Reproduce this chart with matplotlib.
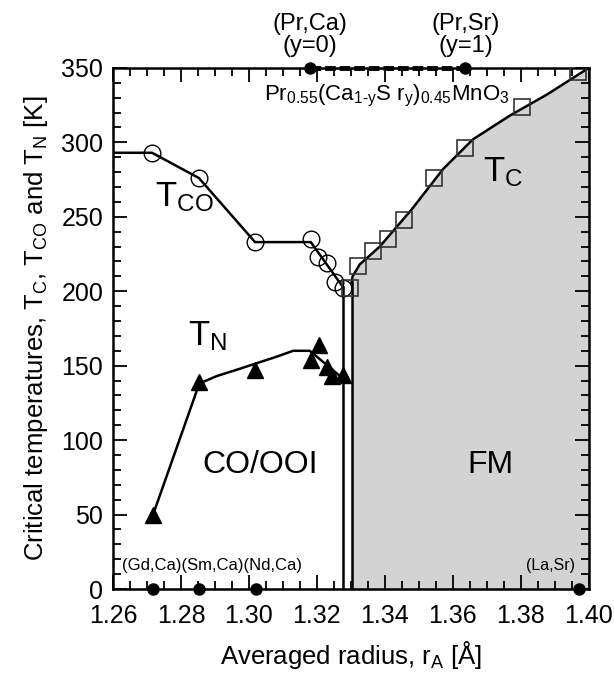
import matplotlib
matplotlib.use('Agg')
import matplotlib.pyplot as plt
from matplotlib.ticker import MultipleLocator

plt.rcParams['font.family'] = ['Liberation Sans', 'DejaVu Sans']
plt.rcParams['mathtext.fontset'] = 'custom'
plt.rcParams['mathtext.rm'] = 'Liberation Sans'
plt.rcParams['mathtext.it'] = 'Liberation Sans:italic'

# T_CO (open circles)
tco_x = [1.2715, 1.2853, 1.3018, 1.3182, 1.3203, 1.3229, 1.3253, 1.3276]
tco_y = [293, 276, 233, 235, 223, 219, 206, 202]
# T_CO guide line
tco_line_x = [1.26, 1.2715, 1.2853, 1.3018, 1.3182, 1.3276]
tco_line_y = [293, 293, 276, 233, 233, 203]

# T_N (filled triangles)
tn_x = [1.2718, 1.2853, 1.3018, 1.3182, 1.3206, 1.3229, 1.3244, 1.3276]
tn_y = [50, 139, 147, 154, 164, 149, 143, 144]
tn_line_x = [1.2718, 1.2854, 1.2905, 1.2974, 1.3081, 1.3130, 1.3179, 1.3268]
tn_line_y = [50, 138, 143, 148, 156, 160, 160, 143]

# T_C (open squares)
tc_x = [1.3297, 1.3321, 1.3364, 1.3410, 1.3456, 1.3545, 1.3635, 1.3802, 1.3969]
tc_y = [202, 217, 227, 235, 248, 276, 296, 324, 347]
tc_line_x = [1.3302, 1.3305, 1.3326, 1.3385, 1.3479, 1.3571, 1.3659, 1.3768, 1.3876, 1.40]
tc_line_y = [206, 210, 218, 230, 255, 282, 302, 318, 332, 350]

# phase boundaries
left_bound_x = 1.3276
right_bound_x = 1.3302

# compounds marked on axes
bottom_dots = [1.2719, 1.2854, 1.3020, 1.3970]
top_dots = [1.3180, 1.3637]

fig = plt.figure(figsize=(6.14, 6.79), dpi=100)
ax = fig.add_axes([0.184, 0.1325, 0.775, 0.7675])

# FM region shading
ax.fill_between(tc_line_x, tc_line_y, 0, color='#d3d3d3', lw=0, zorder=0)
ax.fill_between([right_bound_x, tc_line_x[0]], [0, 0], [206, 206], color='#d3d3d3', lw=0, zorder=0)

ax.plot(tco_line_x, tco_line_y, color='black', lw=1.8, zorder=2)
ax.plot([left_bound_x, left_bound_x], [0, 203], color='black', lw=1.8, zorder=2)
ax.plot([right_bound_x, right_bound_x], [0, 206], color='black', lw=1.8, zorder=2)
ax.plot(tc_line_x, tc_line_y, color='black', lw=1.8, zorder=2)
ax.plot(tn_line_x, tn_line_y, color='black', lw=1.8, zorder=2)

ax.plot(tco_x, tco_y, 'o', ms=12, mfc='none', mec='black', mew=1.0, zorder=3)
ax.plot(tc_x, tc_y, 's', ms=12, mfc='none', mec='#333333', mew=1.2, zorder=3)
ax.plot(tn_x, tn_y, '^', ms=12, color='black', zorder=3)

# top dashed line between (Pr,Ca) and (Pr,Sr)
ax.plot(top_dots, [350, 350], color='black', lw=3.5, ls=(0, (2.2, 0.8)), clip_on=False, zorder=4)
ax.plot(top_dots, [350, 350], 'o', color='black', ms=8, clip_on=False, zorder=5)
ax.plot(bottom_dots, [0] * len(bottom_dots), 'o', color='black', ms=8, clip_on=False, zorder=5)

ax.text(top_dots[0], 357, '(Pr,Ca)\n(y=0)', ha='center', va='bottom', fontsize=17, linespacing=1.0)
ax.text(top_dots[1], 357, '(Pr,Sr)\n(y=1)', ha='center', va='bottom', fontsize=17, linespacing=1.0)
ax.text(1.3045, 331, r'Pr$\mathregular{_{0.55}}$(Ca$\mathregular{_{1\text{-}y}}$S r$\mathregular{_{y}}$)$\mathregular{_{0.45}}$MnO$\mathregular{_3}$',
        ha='left', va='center', fontsize=16)

ax.text(1.2724, 263, r'T$\mathregular{_{CO}}$', ha='left', va='center', fontsize=25)
ax.text(1.2820, 170, r'T$\mathregular{_{N}}$', ha='left', va='center', fontsize=25)
ax.text(1.3688, 280, r'T$\mathregular{_{C}}$', ha='left', va='center', fontsize=25)
ax.text(1.3032, 83, 'CO/OOI', ha='center', va='center', fontsize=23)
ax.text(1.3710, 83, 'FM', ha='center', va='center', fontsize=23)
ax.text(1.2628, 16, '(Gd,Ca)(Sm,Ca)(Nd,Ca)', ha='left', va='center', fontsize=12)
ax.text(1.3960, 16, '(La,Sr)', ha='right', va='center', fontsize=11.5)

ax.set_xlim(1.26, 1.40)
ax.set_ylim(0, 350)
ax.xaxis.set_major_locator(MultipleLocator(0.02))
ax.xaxis.set_minor_locator(MultipleLocator(0.005))
ax.yaxis.set_major_locator(MultipleLocator(50))
ax.yaxis.set_minor_locator(MultipleLocator(10))
ax.xaxis.set_major_formatter(matplotlib.ticker.FormatStrFormatter('%.2f'))
ax.tick_params(which='both', direction='in', top=True, right=True, labelsize=18, width=1.3)
ax.tick_params(which='major', length=10)
ax.tick_params(axis='x', which='major', pad=11)
ax.tick_params(axis='y', which='major', pad=7)
ax.tick_params(which='minor', length=6)
for s in ax.spines.values():
    s.set_linewidth(1.8)

ax.set_xlabel(r'Averaged radius, r$\mathregular{_A}$ [Å]', fontsize=18.5, labelpad=8)
ax.set_ylabel(r'Critical temperatures, T$\mathregular{_C}$, T$\mathregular{_{CO}}$ and T$\mathregular{_N}$ [K]',
              fontsize=18.5, labelpad=8)

fig.savefig('out.png', dpi=100)
